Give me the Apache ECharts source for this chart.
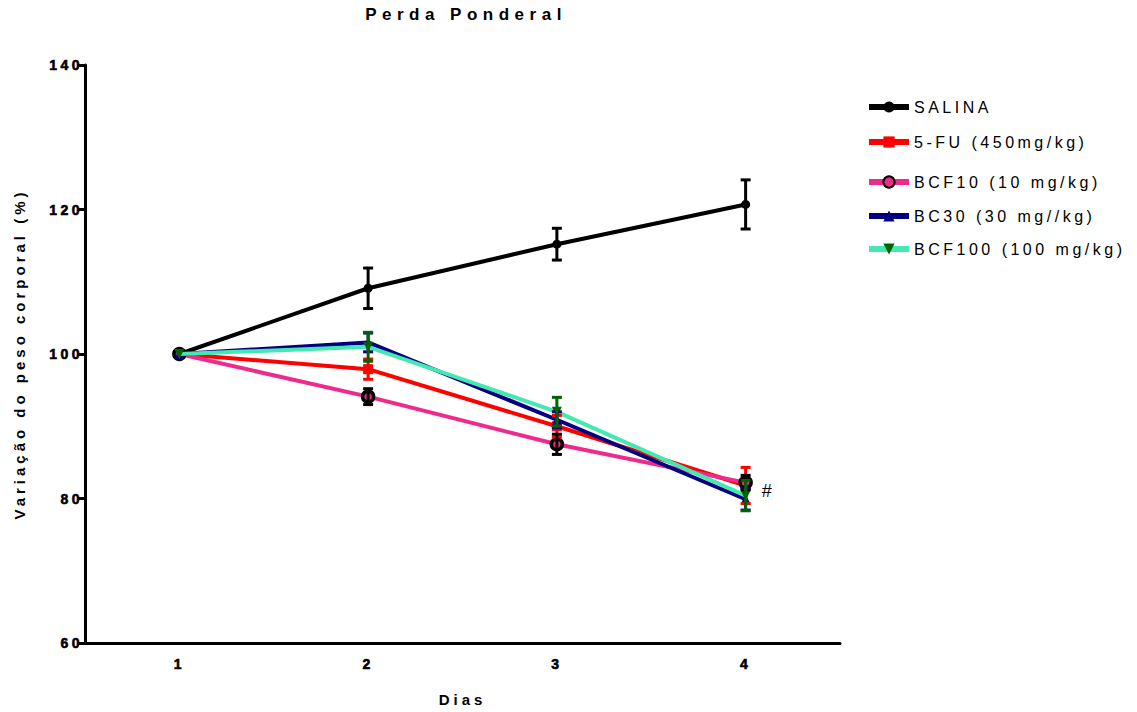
<!DOCTYPE html>
<html>
<head>
<meta charset="utf-8">
<script src="https://cdn.jsdelivr.net/npm/echarts@6/dist/echarts.min.js"></script>
<style>
html,body{margin:0;padding:0;background:#fff;}
#chart{width:1137px;height:712px;}
</style>
</head>
<body>
<div id="chart"></div>
<script>
// ---- data ----
const days = ['1', '2', '3', '4'];
const seriesNames = ['SALINA', '5-FU (450mg/kg)', 'BCF10 (10 mg/kg)', 'BC30 (30 mg//kg)', 'BCF100 (100 mg/kg)'];
const salina = [100, 109.1, 115.2, 120.7];
const salinaErr = [0, 2.8, 2.2, 3.4];
const fu = [100, 97.9, 90.0, 81.8];
const fuErr = [0, 1.4, 1.5, 2.5];
const bcf10 = [100, 94.1, 87.5, 82.2];
const bcf10Err = [0, 1.1, 1.4, 1.0];
const bc30 = [100, 101.6, 90.9, 79.9];
const bc30Err = [0, 1.3, 1.1, 1.5];
const bcf100 = [100, 101.0, 92.0, 80.4];
const bcf100Err = [0, 2.0, 2.0, 2.1];
const yTicks = [60, 80, 100, 120, 140];
const annotation = '#';

const FONT = "'Liberation Sans', Arial, sans-serif";

const styles = [
  {line: '#000000', marker: '#000000', err: '#000000', symbol: 'circle', size: 9, rotate: 0},
  {line: '#ff0000', marker: '#ff0000', err: '#ff0000', symbol: 'rect', size: 10, rotate: 0},
  {line: '#ee2a8c', marker: '#ee2a8c', border: '#000000', err: '#000000', symbol: 'circle', size: 11, rotate: 0},
  {line: '#000080', marker: '#000080', err: '#000080', symbol: 'triangle', size: 10, rotate: 0},
  {line: '#45e8b0', marker: '#006400', err: '#006400', symbol: 'triangle', size: 10, rotate: 180}
];
const values = [salina, fu, bcf10, bc30, bcf100];
const errs = [salinaErr, fuErr, bcf10Err, bc30Err, bcf100Err];
const legendCenters = [106, 141, 181, 215, 248];

function errRender(color) {
  return function (params, api) {
    const x = api.value(0), v = api.value(1), e = api.value(2);
    if (!e) return null;
    const t = api.coord([x, v + e]);
    const b = api.coord([x, v - e]);
    const hw = 5;
    const st = {stroke: color, lineWidth: 3};
    return {
      type: 'group',
      children: [
        {type: 'line', shape: {x1: t[0], y1: t[1], x2: b[0], y2: b[1]}, style: st},
        {type: 'line', shape: {x1: t[0] - hw, y1: t[1], x2: t[0] + hw, y2: t[1]}, style: st},
        {type: 'line', shape: {x1: b[0] - hw, y1: b[1], x2: b[0] + hw, y2: b[1]}, style: st}
      ]
    };
  };
}

const series = [];
values.forEach((vals, i) => {
  const s = styles[i];
  series.push({
    name: seriesNames[i],
    type: 'line',
    z: 2 + i * 0.1,
    data: vals.map((v, j) => {
      if (i === 1 && j === vals.length - 1) {
        return {value: v, label: {show: true, position: 'right', formatter: annotation, distance: 11, offset: [0, 6],
          color: '#000', fontSize: 18, fontFamily: FONT}};
      }
      return v;
    }),
    symbol: s.symbol,
    symbolSize: s.size,
    symbolRotate: s.rotate,
    showAllSymbol: true,
    lineStyle: {color: s.line, width: 4},
    itemStyle: {color: s.marker, borderColor: s.border || s.marker, borderWidth: s.border ? 3.5 : 0, opacity: 1},
    emphasis: {disabled: true},
    animation: false
  });
  series.push({
    name: seriesNames[i] + ' err',
    type: 'custom',
    z: 3,
    renderItem: errRender(s.err),
    data: vals.map((v, j) => [j, v, errs[i][j]]),
    encode: {x: 0, y: 1},
    silent: true,
    animation: false
  });
});

const legends = seriesNames.map((n, i) => ({
  data: [n],
  orient: 'vertical',
  left: 866,
  top: legendCenters[i] - 7,
  padding: 0,
  itemWidth: 40,
  itemHeight: 14,
  itemGap: 5,
  selectedMode: false,
  lineStyle: {width: 6},
  textStyle: {fontSize: 16, fontFamily: FONT, color: '#000'}
}));

const tickLabel = {fontSize: 14, fontWeight: 'bold', fontFamily: FONT, color: '#000',
  textBorderColor: '#000', textBorderWidth: 0.6};

const chart = echarts.init(document.getElementById('chart'), null, {renderer: 'svg'});
chart.setOption({
  animation: false,
  backgroundColor: '#fff',
  title: {
    text: 'Perda Ponderal',
    left: 466,
    textAlign: 'center',
    top: 6,
    padding: 0,
    textStyle: {fontSize: 17, fontWeight: 'bold', fontFamily: FONT, color: '#000'}
  },
  legend: legends,
  grid: {left: 85, right: 297, top: 65, bottom: 67, containLabel: false},
  xAxis: {
    type: 'category',
    data: days,
    boundaryGap: true,
    name: 'Dias',
    nameLocation: 'middle',
    nameGap: 49,
    nameTextStyle: {fontSize: 15, fontWeight: 'bold', fontFamily: FONT, color: '#000'},
    axisLine: {lineStyle: {color: '#000', width: 3}},
    axisTick: {alignWithLabel: true, length: 8, lineStyle: {width: 3, color: '#000'}},
    axisLabel: Object.assign({margin: 14}, tickLabel),
    splitLine: {show: false}
  },
  yAxis: {
    type: 'value',
    min: yTicks[0],
    max: yTicks[yTicks.length - 1],
    interval: yTicks[1] - yTicks[0],
    name: 'Variação do peso corporal (%)',
    nameLocation: 'middle',
    nameGap: 58,
    nameTextStyle: {fontSize: 15, fontWeight: 'bold', fontFamily: FONT, color: '#000'},
    axisLine: {show: true, lineStyle: {color: '#000', width: 3}},
    axisTick: {show: true, length: 8, lineStyle: {width: 3, color: '#000'}},
    axisLabel: Object.assign({margin: 2}, tickLabel),
    splitLine: {show: false}
  },
  series: series
});

function applySpacing() {
  const map = {'17px': '5.5px', '16px': '3.5px', '15px': '4px', '14px': '3.5px'};
  document.querySelectorAll('#chart svg text').forEach(t => {
    const fs = getComputedStyle(t).fontSize;
    if (map[fs]) t.style.letterSpacing = map[fs];
  });
}
applySpacing();
chart.on('finished', applySpacing);
setTimeout(applySpacing, 50);
</script>
</body>
</html>
